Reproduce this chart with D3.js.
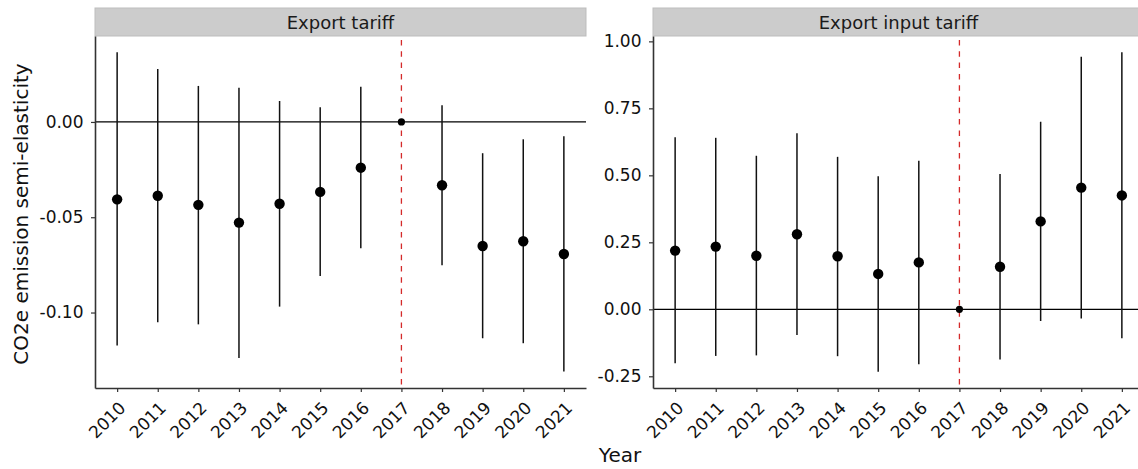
<!DOCTYPE html>
<html><head><meta charset="utf-8">
<script src="https://cdn.jsdelivr.net/npm/d3@7"></script>
<style>body{margin:0;background:#fff}svg{display:block;font-family:"DejaVu Sans",sans-serif}</style>
</head><body><svg id="c" width="1138" height="469"></svg>
<script>
const years = ["2010","2011","2012","2013","2014","2015","2016","2017","2018","2019","2020","2021"];
const panelTitles = ["Export tariff","Export input tariff"];
const estTariff  = [-0.0406,-0.0387,-0.0435,-0.0528,-0.0429,-0.0367,-0.0240,0,-0.0332,-0.0651,-0.0626,-0.0693];
const lowTariff  = [-0.1173,-0.1051,-0.1062,-0.1238,-0.0969,-0.0808,-0.0663,0,-0.0752,-0.1135,-0.1161,-0.1310];
const highTariff = [0.0366,0.0278,0.0189,0.0180,0.0110,0.0077,0.0185,0,0.0088,-0.0164,-0.0091,-0.0075];
const estInput   = [0.219,0.234,0.200,0.280,0.198,0.132,0.175,0,0.159,0.328,0.454,0.425];
const lowInput   = [-0.2015,-0.174,-0.172,-0.096,-0.175,-0.233,-0.205,0,-0.187,-0.0437,-0.034,-0.108];
const highInput  = [0.642,0.640,0.573,0.657,0.569,0.497,0.554,0,0.505,0.700,0.943,0.959];
const ticksTariff = [-0.10,-0.05,0.00];
const ticksInput  = [-0.25,0.00,0.25,0.50,0.75,1.00];
const domTariff = [-0.1396,0.0451];
const domInput  = [-0.2937,1.02];
const refYear = "2017";

(function(){
const svg = d3.select("#c");
const pTop = 36, pBottom = 388, pw = 491;
const panels = [
  {x0:95, title:panelTitles[0], est:estTariff, lo:lowTariff, hi:highTariff, ticks:ticksTariff, dom:domTariff},
  {x0:653, title:panelTitles[1], est:estInput, lo:lowInput, hi:highInput, ticks:ticksInput, dom:domInput}
];
const fmt = d => d3.format(".2f")(d).replace("−","-");

panels.forEach(p=>{
  const g = svg.append("g");
  const x = d3.scalePoint().domain(years).range([p.x0, p.x0+pw]).padding(0.545);
  const y = d3.scaleLinear().domain(p.dom).range([pBottom, pTop]);
  g.append("rect").attr("x",p.x0).attr("y",8).attr("width",pw).attr("height",pTop-8)
    .attr("fill","#cccccc").attr("stroke","#bdbdbd").attr("stroke-width",1);
  g.append("text").attr("x",p.x0+pw/2).attr("y",29).attr("text-anchor","middle")
    .attr("font-size",18).attr("fill","#1a1a1a").text(p.title);
  g.append("line").attr("x1",p.x0).attr("x2",p.x0+pw).attr("y1",y(0)).attr("y2",y(0))
    .attr("stroke","#000").attr("stroke-width",1.3);
  g.append("line").attr("x1",x(refYear)).attr("x2",x(refYear)).attr("y1",pTop+4).attr("y2",pBottom)
    .attr("stroke","#d42a2a").attr("stroke-width",1.3).attr("stroke-dasharray","5.5,5.8");
  years.forEach((yr,i)=>{
    if (p.lo[i]===p.hi[i]) return;
    g.append("line").attr("x1",x(yr)).attr("x2",x(yr)).attr("y1",y(p.lo[i])).attr("y2",y(p.hi[i]))
      .attr("stroke","#111").attr("stroke-width",1.5);
  });
  years.forEach((yr,i)=>{
    const ref = yr===refYear;
    g.append("circle").attr("cx",x(yr)).attr("cy",y(p.est[i])).attr("r",ref?3.6:5.2).attr("fill","#000");
  });
  const ax = g.append("g").attr("transform",`translate(0,${pBottom})`)
    .call(d3.axisBottom(x).tickSize(4).tickSizeOuter(0));
  ax.select(".domain").attr("stroke","#333").attr("stroke-width",1.6);
  ax.selectAll(".tick line").attr("stroke","#333").attr("stroke-width",1.2);
  ax.selectAll(".tick text").attr("font-size",17).attr("fill","#111")
    .attr("font-family","DejaVu Sans").attr("text-anchor","end")
    .attr("x",0).attr("y",0).attr("dy",0)
    .attr("transform","translate(9,21) rotate(-45)");
  const ay = g.append("g").attr("transform",`translate(${p.x0},0)`)
    .call(d3.axisLeft(y).tickValues(p.ticks).tickFormat(fmt).tickSize(4).tickSizeOuter(0));
  ay.select(".domain").attr("stroke","#333").attr("stroke-width",1.6);
  ay.selectAll(".tick line").attr("stroke","#333").attr("stroke-width",1.2);
  ay.selectAll(".tick text").attr("font-size",17).attr("fill","#111").attr("font-family","DejaVu Sans").attr("x",-11.5);
});

svg.append("text").attr("transform","translate(28,214) rotate(-90)").attr("text-anchor","middle")
  .attr("font-size",20).attr("fill","#111").text("CO2e emission semi-elasticity");
svg.append("text").attr("x",620).attr("y",462).attr("text-anchor","middle")
  .attr("font-size",20).attr("fill","#111").text("Year");
})();
</script></body></html>
